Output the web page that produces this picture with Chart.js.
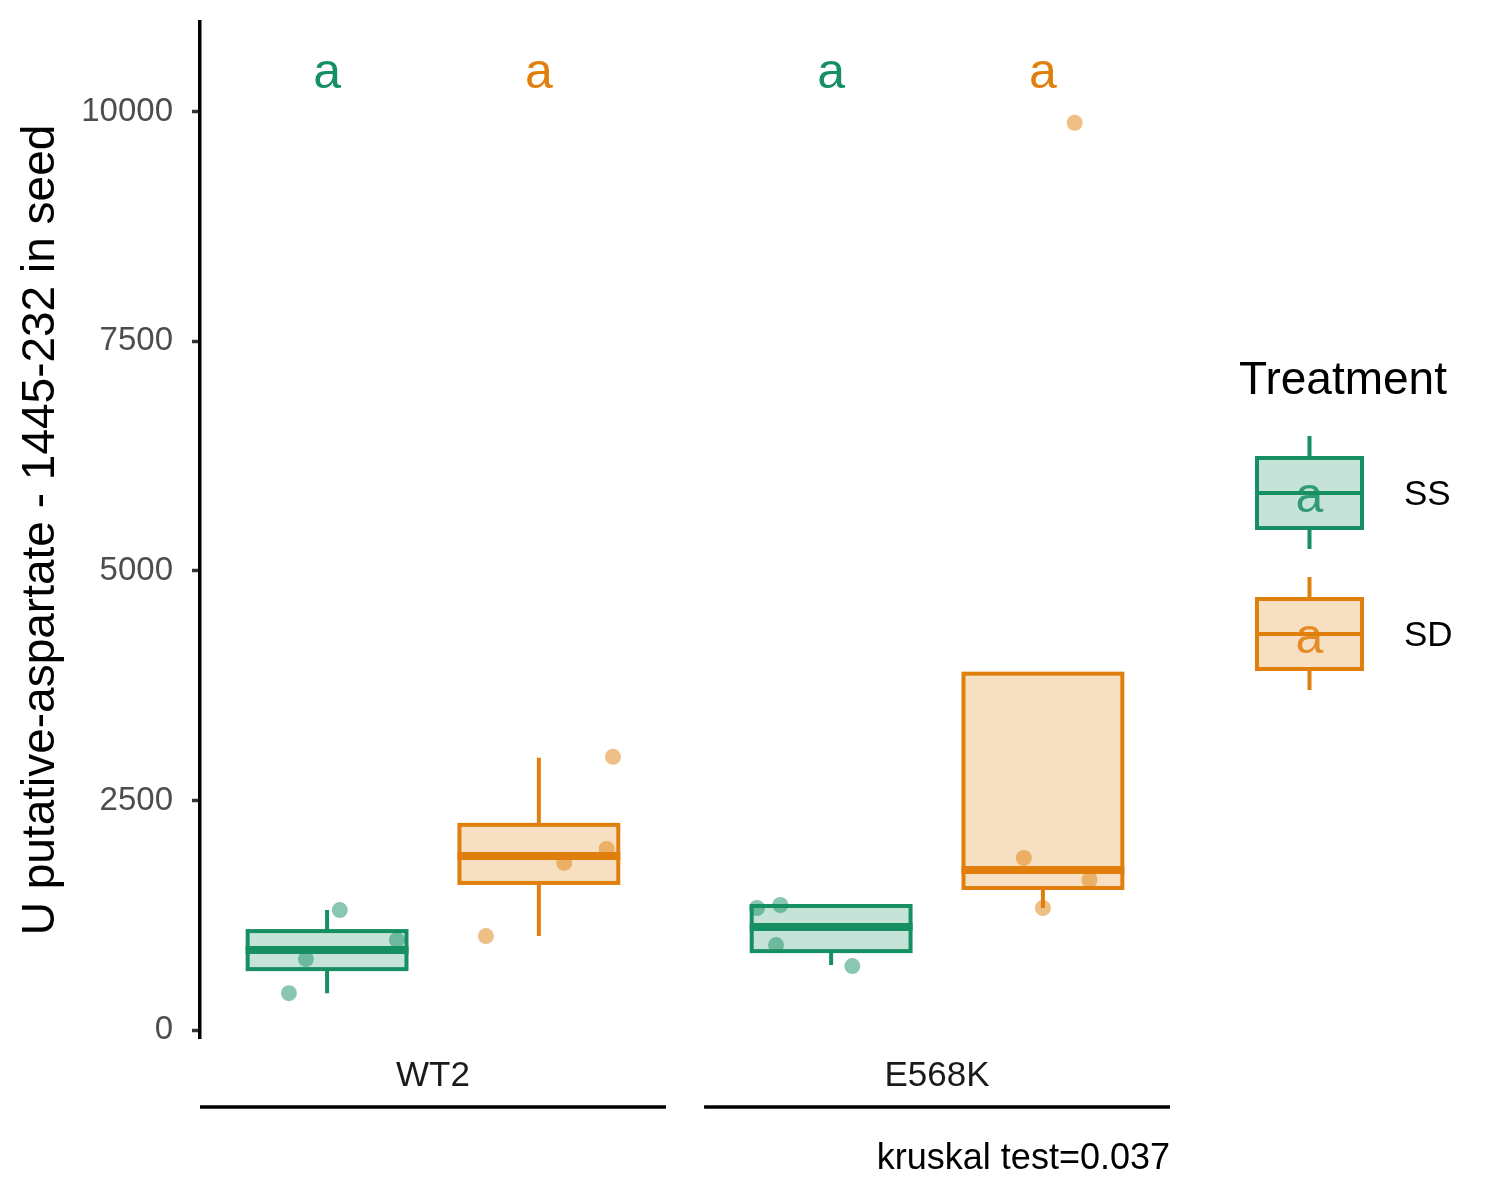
<!DOCTYPE html>
<html>
<head>
<meta charset="utf-8">
<script src="https://cdn.jsdelivr.net/npm/chart.js@4.4.1/dist/chart.umd.min.js"></script>
<style>
  body { margin: 0; background: #fff; }
  #wrap { width: 1500px; height: 1200px; }
</style>
</head>
<body>
<div id="wrap"><canvas id="chart" width="1500" height="1200"></canvas></div>
<script>
// Dados
const FACETS = ['WT2', 'E568K'];
const TREATMENTS = ['SS', 'SD'];
const LEGEND_TITLE = 'Treatment';
const Y_TITLE = 'U putative-aspartate - 1445-232 in seed';
const Y_TICKS = [0, 2500, 5000, 7500, 10000];
const KRUSKAL_LABEL = 'kruskal test=0.037';

// Estatísticas das caixas, ordem: WT2-SS, WT2-SD, E568K-SS, E568K-SD
const WHISKER_LOW = [403, 1025, 709, 1330];
const Q1 = [665, 1603, 861, 1548];
const MEDIAN = [872, 1897, 1123, 1744];
const Q3 = [1079, 2235, 1352, 3881];
const WHISKER_HIGH = [1308, 2965, 1363, 1875];
const LETTERS = ['a', 'a', 'a', 'a'];
const LETTER_Y = 10405;

// Observações (com jitter horizontal)
const OBS_WT2_SS = [1308, 981, 774, 403];
const JIT_WT2_SS = [0.06, 0.33, -0.10, -0.18];
const OBS_WT2_SD = [2976, 1973, 1821, 1025];
const JIT_WT2_SD = [0.35, 0.32, 0.12, -0.25];
const OBS_E568K_SS = [1330, 1363, 927, 698];
const JIT_E568K_SS = [-0.35, -0.24, -0.26, 0.10];
const OBS_E568K_SD = [1875, 1635, 1330, 9877];
const JIT_E568K_SD = [-0.09, 0.22, 0.0, 0.15];

const COLORS = ['#168F62', '#E07F0C'];
const FILLS = ['rgba(22,143,98,0.25)', 'rgba(224,127,12,0.25)'];
const POINT_COLORS = ['rgba(22,143,98,0.5)', 'rgba(224,127,12,0.5)'];
const FONT = "'Liberation Sans', Arial, Helvetica, sans-serif";

// Layout dos painéis (facetas) no eixo x linear
const PANEL_STEP = 2.38;   // largura do painel (2.2) + espaço entre painéis
const BOX_WIDTH = 0.75;

function groupX(facet, treat) {
    return facet * PANEL_STEP + 1 + treat;
}

function toPoints(values, jitter, facet, treat) {
    return values.map((v, i) => ({ x: groupX(facet, treat) + jitter[i], y: v }));
}

const boxPlugin = {
    id: 'boxes',
    beforeDatasetsDraw(chart) {
        const { ctx, scales: { x, y } } = chart;
        ctx.save();
        for (let g = 0; g < 4; g++) {
            const facet = Math.floor(g / 2), treat = g % 2;
            const xc = x.getPixelForValue(groupX(facet, treat));
            const x0 = x.getPixelForValue(groupX(facet, treat) - BOX_WIDTH / 2);
            const x1 = x.getPixelForValue(groupX(facet, treat) + BOX_WIDTH / 2);
            const yq1 = y.getPixelForValue(Q1[g]);
            const yq3 = y.getPixelForValue(Q3[g]);
            const ym = y.getPixelForValue(MEDIAN[g]);
            ctx.strokeStyle = COLORS[treat];
            ctx.lineWidth = 4;
            // whiskers
            ctx.beginPath();
            ctx.moveTo(xc, yq3);
            ctx.lineTo(xc, y.getPixelForValue(WHISKER_HIGH[g]));
            ctx.moveTo(xc, yq1);
            ctx.lineTo(xc, y.getPixelForValue(WHISKER_LOW[g]));
            ctx.stroke();
            // caixa
            ctx.fillStyle = '#fff';
            ctx.fillRect(x0, yq3, x1 - x0, yq1 - yq3);
            ctx.fillStyle = FILLS[treat];
            ctx.fillRect(x0, yq3, x1 - x0, yq1 - yq3);
            ctx.strokeRect(x0, yq3, x1 - x0, yq1 - yq3);
            // mediana
            ctx.lineWidth = 8;
            ctx.beginPath();
            ctx.moveTo(x0 - 2, ym);
            ctx.lineTo(x1 + 2, ym);
            ctx.stroke();
        }
        ctx.restore();
    }
};

const annotationPlugin = {
    id: 'annotations',
    afterDraw(chart) {
        const { ctx, scales: { x, y } } = chart;
        ctx.save();

        // letras de significância
        ctx.font = `50px ${FONT}`;
        ctx.textAlign = 'center';
        ctx.textBaseline = 'middle';
        for (let g = 0; g < 4; g++) {
            const facet = Math.floor(g / 2), treat = g % 2;
            ctx.fillStyle = COLORS[treat];
            ctx.fillText(LETTERS[g], x.getPixelForValue(groupX(facet, treat)), y.getPixelForValue(LETTER_Y));
        }

        // rótulos das facetas embaixo
        ctx.strokeStyle = '#000';
        ctx.lineWidth = 3.5;
        FACETS.forEach((name, f) => {
            const left = x.getPixelForValue(f * PANEL_STEP + 0.4);
            const right = x.getPixelForValue(f * PANEL_STEP + 2.6);
            ctx.font = `35px ${FONT}`;
            ctx.textAlign = 'center';
            ctx.textBaseline = 'middle';
            ctx.fillStyle = '#1A1A1A';
            ctx.fillText(name, (left + right) / 2, 1076);
            ctx.beginPath();
            ctx.moveTo(left, 1107);
            ctx.lineTo(right, 1107);
            ctx.stroke();
            if (f === FACETS.length - 1) {
                ctx.textAlign = 'right';
                ctx.font = `36px ${FONT}`;
                ctx.fillStyle = '#000';
                ctx.fillText(KRUSKAL_LABEL, right, 1159);
            }
        });

        // legenda
        ctx.fillStyle = '#000';
        ctx.font = `46px ${FONT}`;
        ctx.textAlign = 'left';
        ctx.textBaseline = 'alphabetic';
        ctx.fillText(LEGEND_TITLE, 1239, 394);
        TREATMENTS.forEach((name, t) => {
            const cy = 493 + t * 141;
            const kx0 = 1257, kx1 = 1362, kxc = (kx0 + kx1) / 2;
            ctx.strokeStyle = COLORS[t];
            ctx.lineWidth = 4;
            ctx.beginPath();
            ctx.moveTo(kxc, cy - 57);
            ctx.lineTo(kxc, cy + 56);
            ctx.stroke();
            ctx.fillStyle = '#fff';
            ctx.fillRect(kx0, cy - 35, kx1 - kx0, 70);
            ctx.fillStyle = FILLS[t];
            ctx.fillRect(kx0, cy - 35, kx1 - kx0, 70);
            ctx.strokeRect(kx0, cy - 35, kx1 - kx0, 70);
            ctx.beginPath();
            ctx.moveTo(kx0, cy);
            ctx.lineTo(kx1, cy);
            ctx.stroke();
            ctx.fillStyle = COLORS[t];
            ctx.globalAlpha = 0.85;
            ctx.font = `50px ${FONT}`;
            ctx.textAlign = 'center';
            ctx.textBaseline = 'middle';
            ctx.fillText(LETTERS[0], kxc, cy + 5);
            ctx.globalAlpha = 1;
            ctx.fillStyle = '#000';
            ctx.font = `35px ${FONT}`;
            ctx.textAlign = 'left';
            ctx.fillText(name, 1404, cy + 2);
        });
        ctx.restore();
    }
};

const chart = new Chart(document.getElementById('chart'), {
    type: 'scatter',
    data: {
        datasets: [
            {
                label: TREATMENTS[0],
                data: [...toPoints(OBS_WT2_SS, JIT_WT2_SS, 0, 0), ...toPoints(OBS_E568K_SS, JIT_E568K_SS, 1, 0)],
                backgroundColor: POINT_COLORS[0],
                borderWidth: 0,
                pointRadius: 8
            },
            {
                label: TREATMENTS[1],
                data: [...toPoints(OBS_WT2_SD, JIT_WT2_SD, 0, 1), ...toPoints(OBS_E568K_SD, JIT_E568K_SD, 1, 1)],
                backgroundColor: POINT_COLORS[1],
                borderWidth: 0,
                pointRadius: 8
            }
        ]
    },
    options: {
        responsive: false,
        animation: false,
        devicePixelRatio: 1,
        layout: { padding: { top: 22, bottom: 162, right: 330, left: 0 } },
        plugins: { legend: { display: false }, tooltip: { enabled: false } },
        scales: {
            x: { type: 'linear', min: 0.4, max: PANEL_STEP + 2.6, display: false },
            y: {
                type: 'linear',
                min: -85,
                max: 10975,
                afterFit: (s) => { s.width = 200; s.paddingTop = 0; s.paddingBottom = 0; },
                afterBuildTicks: (s) => { s.ticks = Y_TICKS.map(v => ({ value: v })); },
                border: { display: true, color: '#000', width: 3.5 },
                grid: { drawOnChartArea: false, tickLength: 8, tickColor: '#333333', tickWidth: 3.5 },
                ticks: {
                    color: '#4D4D4D',
                    padding: 19,
                    font: { family: FONT, size: 33 },
                    callback: (v) => String(v)
                },
                title: {
                    display: true,
                    text: Y_TITLE,
                    color: '#000',
                    font: { family: FONT, size: 46 },
                    padding: { top: 14, bottom: 0 }
                }
            }
        }
    },
    plugins: [boxPlugin, annotationPlugin]
});
</script>
</body>
</html>
